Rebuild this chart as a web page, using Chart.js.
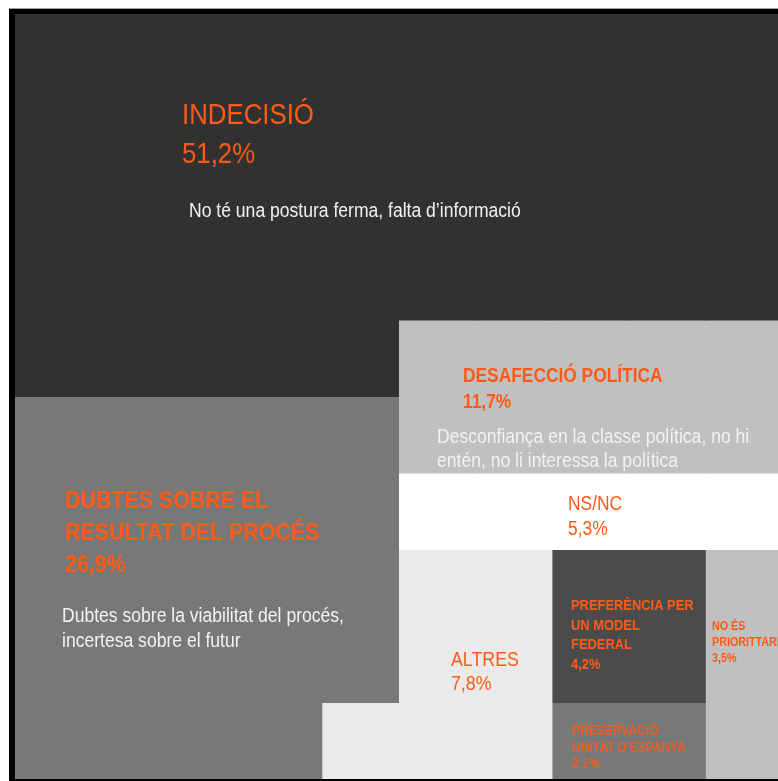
<!DOCTYPE html>
<html>
<head>
<meta charset="utf-8">
<script src="https://cdn.jsdelivr.net/npm/chart.js"></script>
<style>
  html, body { margin: 0; padding: 0; background: #fff; overflow: hidden; }
  canvas { display: block; }
</style>
</head>
<body>
<!-- the grid runs a few px past the right edge of the picture -->
<canvas id="chart" width="782" height="781"></canvas>
<script>
// categories (line breaks as in the picture) and their shares, in %
const categories = [
  'INDECISIÓ',
  'DUBTES SOBRE EL\nRESULTAT DEL PROCÉS',
  'DESAFECCIÓ POLÍTICA',
  'NS/NC',
  'ALTRES',
  'PREFERÈNCIA PER\nUN MODEL\nFEDERAL',
  'PRESERVACIÓ\nUNITAT D’ESPANYA',
  'NO ÉS\nPRIORITTARI'
];
const values = [51.2, 26.9, 11.7, 5.3, 7.8, 4.2, 2.1, 3.5];
const descriptions = [
  'No té una postura ferma, falta d’informació',
  'Dubtes sobre la viabilitat del procés,\nincertesa sobre el futur',
  'Desconfiança en la classe política, no hi\nentén, no li interessa la política',
  '', '', '', '', ''
];

// the picture is a 10 x 10 grid, one column per category slot
const gridColumns = ['1', '2', '3', '4', '5', '6', '7', '8', '9', '10'];

// which rows (top, bottom) each block fills in every column
const cellSpans = [
  [[0, 5], [0, 5], [0, 5], [0, 5], [0, 5], [0, 4], [0, 4], [0, 4], [0, 4], [0, 4]],
  [[5, 10], [5, 10], [5, 10], [5, 10], [5, 9], null, null, null, null, null],
  [null, null, null, null, null, [4, 6], [4, 6], [4, 6], [4, 6], [4, 6]],
  [null, null, null, null, null, [6, 7], [6, 7], [6, 7], [6, 7], [6, 7]],
  [null, null, null, null, [9, 10], [7, 10], [7, 10], null, null, null],
  [null, null, null, null, null, null, null, [7, 9], [7, 9], null],
  [null, null, null, null, null, null, null, [9, 10], [9, 10], null],
  [null, null, null, null, null, null, null, null, null, [7, 10]]
];

const fills = ['#313131', '#787878', '#c0c0c0', '#ffffff', '#eaeaea', '#4b4b4b', '#787878', '#c0c0c0'];

const ORANGE = '#ff5a16';
const FONT = '"Liberation Sans", Arial, sans-serif';

// label placement in grid units, text sizes in px, sx = horizontal squeeze
const labelStyles = [
  { x: 2.177, y: 1.438, size: 29, weight: 400, gap: 39, sx: 0.89, dx: 2.269, dy: 2.654, dSize: 19.5, dGap: 25 },
  { x: 0.652, y: 6.458, size: 23.5, weight: 700, gap: 32, sx: 0.91, dx: 0.613, dy: 7.948, dSize: 19.5, dGap: 25 },
  { x: 5.841, y: 4.810, size: 19.5, weight: 700, gap: 26, sx: 0.89, dx: 5.502, dy: 5.608, dSize: 19.5, dGap: 24 },
  { x: 7.210, y: 6.484, size: 20, weight: 400, gap: 25, sx: 0.87 },
  { x: 5.684, y: 8.523, size: 20, weight: 400, gap: 24, sx: 0.89 },
  { x: 7.249, y: 7.791, size: 15, weight: 700, gap: 19.5, sx: 0.86 },
  { x: 7.262, y: 9.425, size: 14, weight: 700, gap: 16.5, sx: 0.86, alpha: 0.85 },
  { x: 9.087, y: 8.052, size: 12.5, weight: 700, gap: 16, sx: 0.86 }
];

const fmt = v => v.toFixed(1).replace('.', ',') + '%';

function squeezedText(ctx, t, x, y, sx) {
  ctx.save();
  ctx.translate(x, y);
  ctx.scale(sx, 1);
  ctx.fillText(t, 0, 0);
  ctx.restore();
}

const framePlugin = {
  id: 'frame',
  beforeDraw(chart) {
    const ctx = chart.ctx;
    ctx.save();
    ctx.fillStyle = '#a0a0a0';
    ctx.fillRect(9, 8, chart.width - 9, 1);
    ctx.fillStyle = '#000';
    ctx.fillRect(9, 9, chart.width - 9, chart.height - 9);
    ctx.restore();
  }
};

const labelPlugin = {
  id: 'regionLabels',
  afterDatasetsDraw(chart) {
    const { ctx, scales: { x, y } } = chart;
    const gx = g => x.getPixelForValue(g - 0.5);
    const gy = g => y.getPixelForValue(g);
    ctx.save();
    ctx.textBaseline = 'alphabetic';
    ctx.textAlign = 'left';
    categories.forEach((name, i) => {
      const s = labelStyles[i];
      const lines = name.split('\n').concat(fmt(values[i]));
      ctx.globalAlpha = s.alpha || 1;
      ctx.fillStyle = ORANGE;
      ctx.font = s.weight + ' ' + s.size + 'px ' + FONT;
      lines.forEach((t, k) => squeezedText(ctx, t, gx(s.x), gy(s.y) + k * s.gap, s.sx));
      ctx.globalAlpha = 1;
      if (descriptions[i]) {
        ctx.fillStyle = '#f2f2f2';
        ctx.font = '400 ' + s.dSize + 'px ' + FONT;
        descriptions[i].split('\n').forEach((t, k) => squeezedText(ctx, t, gx(s.dx), gy(s.dy) + k * s.dGap, 0.9));
      }
    });
    ctx.restore();
  }
};

new Chart(document.getElementById('chart'), {
  type: 'bar',
  data: {
    labels: gridColumns,
    datasets: categories.map((name, i) => ({
      label: name,
      data: cellSpans[i],
      backgroundColor: fills[i],
      borderWidth: 0,
      inflateAmount: 0.5,
      grouped: false,
      categoryPercentage: 1,
      barPercentage: 1
    }))
  },
  options: {
    responsive: false,
    devicePixelRatio: 1,
    animation: false,
    layout: { padding: { left: 15, top: 14, right: 0, bottom: 2 } },
    scales: {
      x: { display: false },
      y: { display: false, min: 0, max: 10, reverse: true }
    },
    plugins: {
      legend: { display: false },
      tooltip: { enabled: false }
    }
  },
  plugins: [framePlugin, labelPlugin]
});
</script>
</body>
</html>
